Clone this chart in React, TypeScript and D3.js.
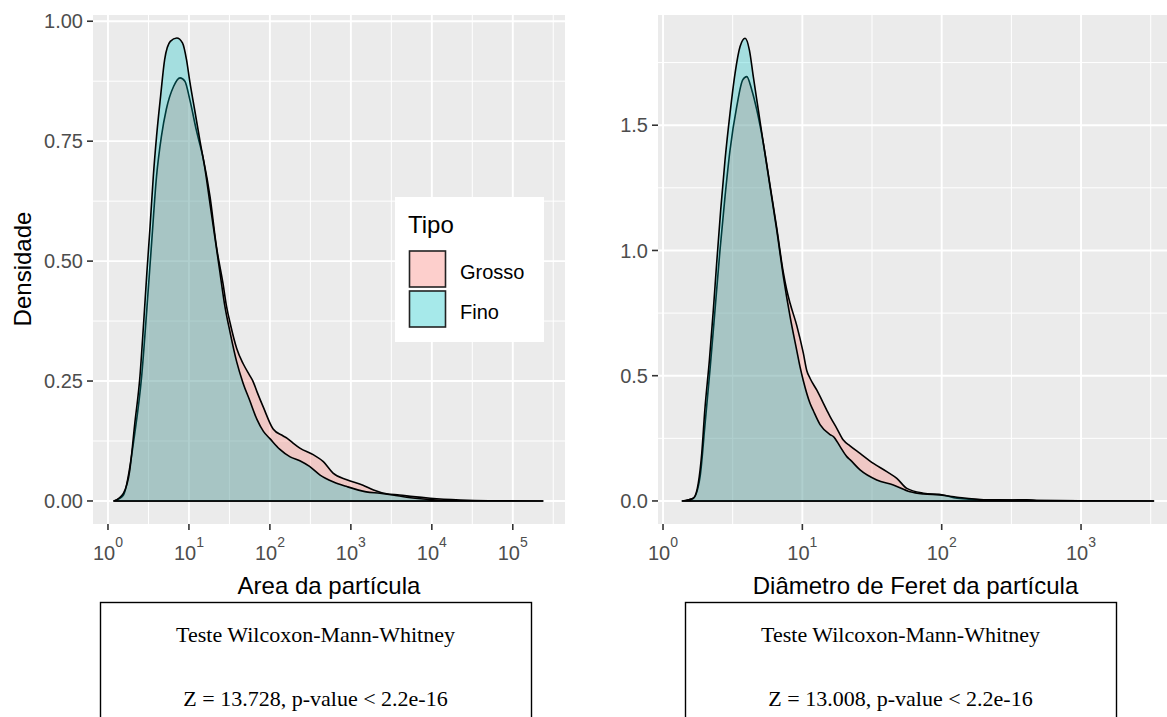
import React from "react";
import * as d3 from "d3";

// ---- data (x given as log10 of the value, y = density) ----
const areaGrossoLogX = [0.074,0.19,0.33,0.416,0.48,0.54,0.60,0.66,0.72,0.81,0.89,0.95,1.01,1.09,1.18,1.26,1.34,1.42,1.465,1.51,1.59,1.67,1.75,1.79,1.84,1.92,2.04,2.16,2.21,2.29,2.37,2.54,2.66,2.78,2.95,3.15,3.28,3.44,3.6,3.77,3.98,4.35,4.7,5.37];
const areaGrossoDens = [0,0.012,0.14,0.26,0.40,0.54,0.677,0.76,0.816,0.864,0.882,0.875,0.837,0.774,0.711,0.635,0.53,0.454,0.405,0.37,0.318,0.286,0.262,0.25,0.228,0.195,0.15,0.136,0.131,0.12,0.11,0.096,0.082,0.058,0.044,0.033,0.023,0.015,0.0125,0.009,0.0056,0.002,0.0005,0];
const areaFinoLogX = [0.074,0.19,0.27,0.33,0.395,0.44,0.48,0.52,0.56,0.60,0.65,0.70,0.77,0.85,0.92,0.97,1.01,1.07,1.14,1.20,1.26,1.32,1.38,1.44,1.51,1.59,1.67,1.75,1.84,1.92,2.0,2.12,2.25,2.37,2.49,2.62,2.78,2.95,3.19,3.36,3.52,3.69,3.93,4.26,4.6,5.37];
const areaFinoDens = [0,0.016,0.065,0.16,0.26,0.37,0.475,0.572,0.677,0.76,0.844,0.92,0.958,0.965,0.955,0.92,0.875,0.816,0.747,0.69,0.62,0.55,0.48,0.41,0.35,0.29,0.245,0.21,0.17,0.145,0.13,0.108,0.092,0.084,0.072,0.054,0.04,0.03,0.019,0.016,0.0125,0.0077,0.0035,0.0006,0.0001,0];

const feretGrossoLogX = [0.139,0.218,0.266,0.30,0.337,0.373,0.409,0.445,0.481,0.529,0.572,0.601,0.637,0.673,0.72,0.768,0.816,0.864,0.888,0.912,0.96,1.007,1.032,1.055,1.103,1.175,1.199,1.247,1.294,1.342,1.414,1.51,1.606,1.678,1.75,1.869,2.01,2.11,2.3,2.51,2.61,2.68,3.0,3.52];
const feretGrossoDens = [0,0.011,0.097,0.297,0.523,0.762,1.002,1.215,1.401,1.574,1.681,1.694,1.641,1.561,1.428,1.26,1.09,0.91,0.842,0.789,0.70,0.59,0.52,0.49,0.443,0.363,0.337,0.29,0.243,0.22,0.19,0.15,0.117,0.09,0.05,0.031,0.024,0.011,0.005,0.004,0.005,0.002,0.0005,0];
const feretFinoLogX = [0.139,0.218,0.253,0.278,0.30,0.333,0.361,0.385,0.414,0.445,0.481,0.517,0.553,0.589,0.62,0.648,0.684,0.72,0.768,0.816,0.864,0.912,0.96,0.983,1.007,1.055,1.079,1.127,1.199,1.223,1.271,1.319,1.342,1.414,1.534,1.653,1.773,1.869,1.989,2.11,2.3,2.51,2.7,3.0,3.52];
const feretFinoDens = [0,0.011,0.07,0.19,0.363,0.563,0.762,0.949,1.162,1.361,1.548,1.707,1.814,1.847,1.80,1.694,1.561,1.428,1.255,1.082,0.895,0.736,0.60,0.536,0.48,0.39,0.36,0.305,0.265,0.257,0.217,0.177,0.165,0.124,0.084,0.064,0.037,0.028,0.024,0.015,0.005,0.004,0.002,0.0005,0];

const groups = ["Grosso", "Fino"];
const groupColors = ["#F8766D", "#00BFC4"];

const areaYTicks = [0, 0.25, 0.5, 0.75, 1.0];
const areaYLabels = ["0.00", "0.25", "0.50", "0.75", "1.00"];
const feretYTicks = [0, 0.5, 1.0, 1.5];
const feretYLabels = ["0.0", "0.5", "1.0", "1.5"];
const areaXExps = [0, 1, 2, 3, 4, 5];
const feretXExps = [0, 1, 2, 3];

const testTitle = "Teste Wilcoxon-Mann-Whitney";
const testAreaResult = "Z = 13.728, p-value < 2.2e-16";
const testFeretResult = "Z = 13.008, p-value < 2.2e-16";

const W = 1167, H = 717;
const SANS = "'Liberation Sans', Arial, sans-serif";
const SERIF = "'Liberation Serif', 'Times New Roman', serif";

type PanelProps = {
  x0: number; x1: number; logDomain: [number, number];
  yDomain: [number, number];
  yTicks: number[]; yLabels: string[]; xExps: number[];
  series: { lx: number[]; d: number[] }[];
  xTitle: string; clipId: string;
};

function Panel(p: PanelProps) {
  const top = 15, bottom = 524;
  const x = d3.scaleLog().domain([Math.pow(10, p.logDomain[0]), Math.pow(10, p.logDomain[1])]).range([p.x0, p.x1]);
  const y = d3.scaleLinear().domain(p.yDomain).range([bottom, top]);
  const minorX: number[] = [];
  for (let e = Math.floor(p.logDomain[0]) - 0.5; e <= p.logDomain[1]; e += 1) {
    if (e >= p.logDomain[0]) minorX.push(e);
  }
  const step = p.yTicks[1] - p.yTicks[0];
  const minorY: number[] = [];
  for (let v = p.yTicks[0] - step / 2; v <= p.yDomain[1]; v += step) {
    if (v >= p.yDomain[0]) minorY.push(v);
  }
  const area = d3.area<[number, number]>()
    .x(dd => x(Math.pow(10, dd[0])))
    .y0(y(0))
    .y1(dd => y(dd[1]))
    .curve(d3.curveMonotoneX);
  const cx = (p.x0 + p.x1) / 2;
  return (
    <g>
      <defs>
        <clipPath id={p.clipId}><rect x={p.x0} y={top} width={p.x1 - p.x0} height={bottom - top} /></clipPath>
      </defs>
      <rect x={p.x0} y={top} width={p.x1 - p.x0} height={bottom - top} fill="#EBEBEB" />
      <g clipPath={`url(#${p.clipId})`}>
        {minorY.map((v, i) => <line key={"my" + i} x1={p.x0} x2={p.x1} y1={y(v)} y2={y(v)} stroke="#fff" strokeWidth={1} />)}
        {minorX.map((e, i) => <line key={"mx" + i} x1={x(Math.pow(10, e))} x2={x(Math.pow(10, e))} y1={top} y2={bottom} stroke="#fff" strokeWidth={1} />)}
        {p.yTicks.map((v, i) => <line key={"gy" + i} x1={p.x0} x2={p.x1} y1={y(v)} y2={y(v)} stroke="#fff" strokeWidth={1.9} />)}
        {p.xExps.map((e, i) => <line key={"gx" + i} x1={x(Math.pow(10, e))} x2={x(Math.pow(10, e))} y1={top} y2={bottom} stroke="#fff" strokeWidth={1.9} />)}
        {p.series.map((s, i) => {
          const pts = s.lx.map((v, j) => [v, s.d[j]] as [number, number]);
          return <path key={"s" + i} d={area(pts) + "Z"} fill={groupColors[i]} fillOpacity={0.3} stroke="#000" strokeWidth={1.6} strokeLinejoin="round" />;
        })}
      </g>
      {p.yTicks.map((v, i) => (
        <g key={"yt" + i}>
          <line x1={p.x0 - 6} x2={p.x0} y1={y(v)} y2={y(v)} stroke="#333" strokeWidth={1.6} />
          <text x={p.x0 - 10} y={y(v)} dy="0.36em" textAnchor="end" fontSize={20} fill="#4D4D4D" fontFamily={SANS}>{p.yLabels[i]}</text>
        </g>
      ))}
      {p.xExps.map((e, i) => {
        const px = x(Math.pow(10, e));
        return (
          <g key={"xt" + i}>
            <line x1={px} x2={px} y1={bottom} y2={bottom + 6} stroke="#333" strokeWidth={1.6} />
            <text x={px} y={560} textAnchor="middle" fontSize={20} fill="#4D4D4D" fontFamily={SANS}>
              <tspan>10</tspan><tspan fontSize={14} dy={-13}>{e}</tspan>
            </text>
          </g>
        );
      })}
      <text x={cx} y={594} textAnchor="middle" fontSize={24} fill="#000" fontFamily={SANS}>{p.xTitle}</text>
    </g>
  );
}

export default function App() {
  return (
    <svg width={W} height={H} style={{ position: "absolute", left: 0, top: 0, background: "#fff" }}>
      <Panel x0={93} x1={565} logDomain={[-0.185, 5.645]} yDomain={[-0.048, 1.013]}
        yTicks={areaYTicks} yLabels={areaYLabels} xExps={areaXExps}
        series={[{ lx: areaGrossoLogX, d: areaGrossoDens }, { lx: areaFinoLogX, d: areaFinoDens }]}
        xTitle="Area da partícula" clipId="clipA" />
      <Panel x0={658} x1={1173} logDomain={[-0.036, 3.66]} yDomain={[-0.092, 1.94]}
        yTicks={feretYTicks} yLabels={feretYLabels} xExps={feretXExps}
        series={[{ lx: feretGrossoLogX, d: feretGrossoDens }, { lx: feretFinoLogX, d: feretFinoDens }]}
        xTitle="Diâmetro de Feret da partícula" clipId="clipB" />
      <text transform="translate(31,269) rotate(-90)" textAnchor="middle" fontSize={24} fontFamily={SANS} fill="#000">Densidade</text>

      {/* legend */}
      <rect x={395} y={197} width={149} height={145} fill="#fff" />
      <text x={408} y={233} fontSize={24} fontFamily={SANS} fill="#000">Tipo</text>
      {groups.map((g, i) => (
        <g key={g}>
          <rect x={409.5} y={251} width={36} height={36} transform={`translate(0,${i * 40})`} fill={groupColors[i]} fillOpacity={0.35} stroke="#222" strokeWidth={1.6} />
          <text x={460} y={271.5 + i * 40} dy="0.36em" fontSize={20} fontFamily={SANS} fill="#000">{g}</text>
        </g>
      ))}

      {/* test boxes */}
      {[{ x: 100, r: testAreaResult }, { x: 685, r: testFeretResult }].map((b, i) => (
        <g key={"box" + i}>
          <rect x={b.x + 0.5} y={602.5} width={431} height={130} fill="#fff" stroke="#000" strokeWidth={1.4} />
          <text x={b.x + 215.5} y={642} textAnchor="middle" fontSize={22} fontFamily={SERIF} fill="#000">{testTitle}</text>
          <text x={b.x + 215.5} y={706} textAnchor="middle" fontSize={22} fontFamily={SERIF} fill="#000">{b.r}</text>
        </g>
      ))}
    </svg>
  );
}
